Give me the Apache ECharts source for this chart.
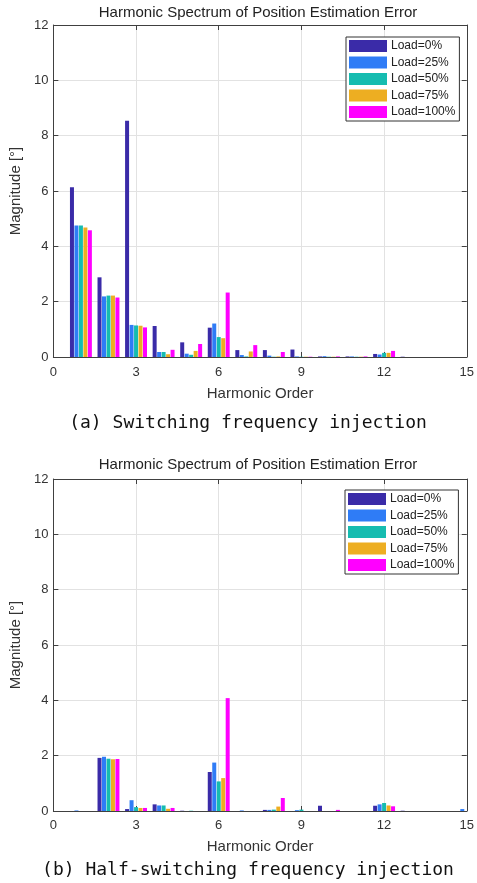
<!DOCTYPE html>
<html>
<head>
<meta charset="utf-8">
<script src="https://cdn.jsdelivr.net/npm/echarts@6/dist/echarts.min.js"></script>
<style>
html,body{margin:0;padding:0;background:#fff;}
#chart{width:477px;height:883px;}
</style>
</head>
<body>
<div id="chart"></div>
<script>
// ---- Data ----
const harmonics = [1,2,3,4,5,6,7,8,9,10,11,12,13,14,15];
const loadNames = ['Load=0%','Load=25%','Load=50%','Load=75%','Load=100%'];
const xTicks = [0,3,6,9,12,15];
const yTicks = [0,2,4,6,8,10,12];

// (a) Switching frequency injection
const a_load0   = [6.14, 2.88, 8.54, 1.12, 0.53, 1.06, 0.25, 0.25, 0.27, 0.02, 0.02, 0.11, 0.01, 0, 0];
const a_load25  = [4.75, 2.19, 1.16, 0.18, 0.12, 1.21, 0.07, 0.05, 0.02, 0.03, 0.02, 0.09, 0, 0, 0];
const a_load50  = [4.75, 2.22, 1.14, 0.18, 0.08, 0.72, 0.02, 0.01, 0.01, 0.01, 0.01, 0.15, 0, 0, 0];
const a_load75  = [4.68, 2.22, 1.13, 0.10, 0.22, 0.68, 0.20, 0.02, 0.01, 0.01, 0.01, 0.15, 0, 0, 0];
const a_load100 = [4.58, 2.15, 1.07, 0.26, 0.47, 2.33, 0.43, 0.18, 0.01, 0.02, 0.02, 0.22, 0, 0, 0];

// (b) Half-switching frequency injection
const b_load0   = [0, 1.92, 0.07, 0.24, 0.01, 1.41, 0, 0.04, 0, 0.19, 0, 0.19, 0.01, 0, 0];
const b_load25  = [0.02, 1.96, 0.39, 0.20, 0, 1.75, 0.02, 0.04, 0.03, 0, 0, 0.24, 0, 0, 0.07];
const b_load50  = [0, 1.89, 0.14, 0.20, 0.01, 1.07, 0, 0.05, 0.05, 0, 0, 0.29, 0, 0, 0];
const b_load75  = [0, 1.87, 0.11, 0.08, 0, 1.19, 0, 0.16, 0, 0, 0, 0.20, 0, 0, 0];
const b_load100 = [0, 1.88, 0.11, 0.11, 0, 4.08, 0, 0.47, 0, 0.04, 0, 0.17, 0, 0, 0];

const titleText = 'Harmonic Spectrum of Position Estimation Error';
const captionA = '(a) Switching frequency injection';
const captionB = '(b) Half-switching frequency injection';
const xName = 'Harmonic Order';
const yName = 'Magnitude [°]';

// ---- Styles ----
const colors = ['#3a2ba8', '#2f7cf6', '#16bcb0', '#edae22', '#ff00ff'];
const SANS = 'Liberation Sans, Arial, sans-serif';
const axisColor = '#404040';
const textColor = '#333';

const chart = echarts.init(document.getElementById('chart'));

function xAxes(gridIndex, nameGap, labelMargin) {
  return [
    {
      gridIndex, type: 'value', position: 'bottom',
      min: xTicks[0], max: xTicks[xTicks.length - 1], interval: xTicks[1] - xTicks[0],
      axisLine: { show: true, onZero: false, lineStyle: { color: axisColor, width: 1 } },
      axisTick: { show: true, inside: true, length: 5, lineStyle: { color: axisColor } },
      axisLabel: { show: true, fontSize: 13, color: textColor, margin: labelMargin, fontFamily: SANS },
      splitLine: { show: true, lineStyle: { color: '#e2e2e2', width: 1 } },
      name: xName, nameLocation: 'middle', nameGap: nameGap,
      nameTextStyle: { fontSize: 15, color: textColor, fontFamily: SANS }
    },
    {
      gridIndex, type: 'value', position: 'top',
      min: xTicks[0], max: xTicks[xTicks.length - 1], interval: xTicks[1] - xTicks[0],
      axisLine: { show: true, onZero: false, lineStyle: { color: axisColor, width: 1 } },
      axisTick: { show: true, inside: true, length: 5, lineStyle: { color: axisColor } },
      axisLabel: { show: false },
      splitLine: { show: false }
    }
  ];
}
function yAxes(gridIndex) {
  return [
    {
      gridIndex, type: 'value', position: 'left',
      min: yTicks[0], max: yTicks[yTicks.length - 1], interval: yTicks[1] - yTicks[0],
      axisLine: { show: true, onZero: false, lineStyle: { color: axisColor, width: 1 } },
      axisTick: { show: true, inside: true, length: 5, lineStyle: { color: axisColor } },
      axisLabel: { show: true, fontSize: 13, color: textColor, margin: 5, fontFamily: SANS },
      splitLine: { show: true, lineStyle: { color: '#e2e2e2', width: 1 } },
      name: yName, nameLocation: 'middle', nameGap: 23, nameRotate: 90,
      nameTextStyle: { fontSize: 15, color: textColor, fontFamily: SANS }
    },
    {
      gridIndex, type: 'value', position: 'right',
      min: yTicks[0], max: yTicks[yTicks.length - 1], interval: yTicks[1] - yTicks[0],
      axisLine: { show: true, onZero: false, lineStyle: { color: axisColor, width: 1 } },
      axisTick: { show: true, inside: true, length: 5, lineStyle: { color: axisColor } },
      axisLabel: { show: false },
      splitLine: { show: false }
    }
  ];
}

function makeSeries(arrs, xIdx, yIdx) {
  return arrs.map((vals, i) => ({
    name: loadNames[i],
    type: 'bar',
    xAxisIndex: xIdx, yAxisIndex: yIdx,
    barWidth: 4,
    barGap: '12%',
    itemStyle: { color: colors[i] },
    emphasis: { disabled: true },
    data: harmonics.map((h, k) => [h, vals[k]])
  }));
}

function legend(left, top) {
  return {
    orient: 'vertical', left, top,
    data: loadNames.map(n => ({ name: n, icon: 'rect' })),
    itemWidth: 38, itemHeight: 12, itemGap: 4.5,
    padding: [3, 4, 3, 3],
    backgroundColor: '#fff',
    borderColor: '#333', borderWidth: 1,
    textStyle: { fontSize: 12, color: '#222', fontFamily: SANS, padding: [0, 0, 0, -1] },
    selectedMode: false
  };
}

function textEl(txt, x, y, font, fill) {
  return {
    type: 'text', x, y, silent: true,
    style: { text: txt, font, fill, textAlign: 'center', textVerticalAlign: 'middle' }
  };
}

const option = {
  animation: false,
  backgroundColor: '#fff',
  color: colors,
  grid: [
    { left: 48, top: 25, width: 420, height: 332, containLabel: false },
    { left: 48, top: 479, width: 420, height: 332, containLabel: false }
  ],
  xAxis: [...xAxes(0, 29, 9), ...xAxes(1, 28, 8)],
  yAxis: [...yAxes(0), ...yAxes(1)],
  legend: [legend(346, 37), legend(345, 490)],
  series: [
    ...makeSeries([a_load0, a_load25, a_load50, a_load75, a_load100], 0, 0),
    ...makeSeries([b_load0, b_load25, b_load50, b_load75, b_load100], 2, 2)
  ],
  graphic: [
    textEl(titleText, 258, 13, '15px ' + SANS, '#222'),
    textEl(titleText, 258, 465, '15px ' + SANS, '#222'),
    textEl(captionA, 248, 423, '18px "DejaVu Sans Mono", monospace', '#111'),
    textEl(captionB, 248, 870, '18px "DejaVu Sans Mono", monospace', '#111')
  ]
};
chart.setOption(option);
</script>
</body>
</html>
